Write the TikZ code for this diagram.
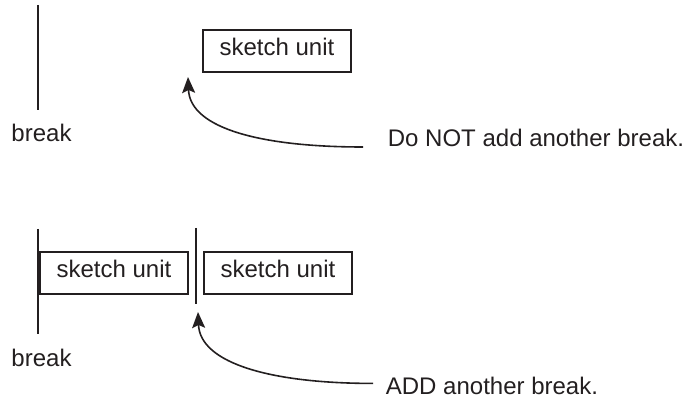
\documentclass[tikz,border=0pt]{standalone}
\usepackage{fontspec}
\setmainfont{Liberation Sans}
\usetikzlibrary{positioning,arrows.meta}
\definecolor{ink}{RGB}{35,31,32}
\begin{document}
\begin{tikzpicture}[x=0.5pt, y=-0.5pt, node distance=7pt, line width=0.9pt, draw=ink, text=ink,
	unit node/.style={draw, line width=1pt, minimum width=74pt, minimum height=21pt, inner sep=0pt, text height=8.6pt, text depth=4.1pt, font=\fontsize{12}{14}\selectfont},
	text node/.style={inner sep=0pt, font=\fontsize{12}{14}\selectfont},
	pointer/.style={-{Stealth[length=8pt, width=6.5pt, inset=1.5pt]}, line width=0.8pt}]
	\useasboundingbox (0,0) rectangle (683,400);
	\node[unit node] (U) at (277,51) {sketch unit};
	\node[text node, anchor=base] (B1) at (41.5,142) {break};
	\node[text node, anchor=base west] (N1) at (387,147) {Do NOT add another break.};
	\coordinate (L1a) at (38,5);
	\coordinate (L1b) at (38,110);
	\coordinate (T1) at (188,77);
	\draw (L1a) -- (L1b);
	\draw[pointer] ([xshift=-12pt]N1.base west) .. controls +(-100,0) and +(2,52) .. (T1);

	\node[unit node] (U1) at (114,272.5) {sketch unit};
	\node[unit node] (U2) [right=of U1] {sketch unit};
	\node[text node, anchor=base] (B2) at (41.5,366) {break};
	\node[text node, anchor=base west] (N2) at (385,394) {ADD another break.};
	\coordinate (L2a) at (38,229);
	\coordinate (L2b) at (38,334);
	\coordinate (L3a) at (196,228);
	\coordinate (L3b) at (196,304);
	\coordinate (T2) at (198,312);
	\draw (L2a) -- (L2b);
	\draw (L3a) -- (L3b);
	\draw[pointer] ([xshift=-6pt, yshift=1pt]N2.west) .. controls +(-100,0) and +(2,52) .. (T2);
\end{tikzpicture}
\end{document}
